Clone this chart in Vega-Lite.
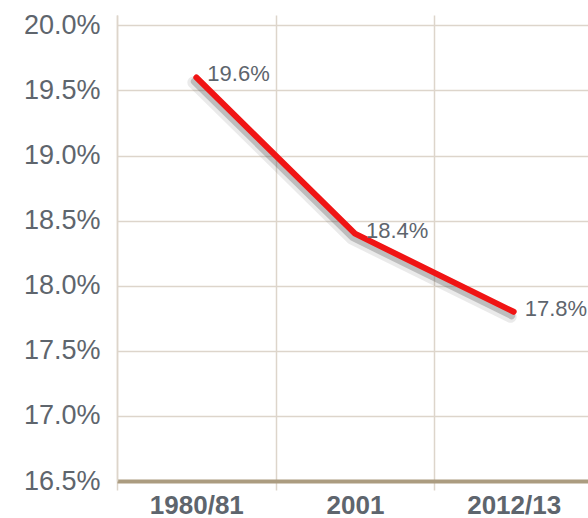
{
  "$schema": "https://vega.github.io/schema/vega-lite/v6.json",
  "width": 476,
  "height": 466,
  "padding": {"left": 117, "top": 15, "right": 0, "bottom": 37},
  "autosize": {"type": "none"},
  "background": "white",
  "config": {"view": {"stroke": null}, "font": "Liberation Sans"},
  "data": {"values": [
    {"year": "1980/81", "share": 19.6, "label": "19.6%"},
    {"year": "2001", "share": 18.4, "label": "18.4%"},
    {"year": "2012/13", "share": 17.8, "label": "17.8%"}
  ]},
  "encoding": {
    "x": {"field": "year", "type": "nominal", "sort": null,
      "scale": {"paddingInner": 0, "paddingOuter": 0},
      "axis": {"title": null, "labelAngle": 0, "labelFont": "Liberation Sans", "labelFontSize": 26, "labelFontWeight": "bold", "labelColor": "#5e656d", "labelPadding": 2,
        "grid": true, "gridColor": "#ddd5cb", "gridWidth": 1.5, "bandPosition": 0,
        "ticks": true, "tickBand": "extent", "tickColor": "#ddd5cb", "tickWidth": 1.5, "tickSize": 9,
        "domain": true, "domainColor": "#ab9c80", "domainWidth": 4}},
    "y": {"field": "share", "type": "quantitative",
      "scale": {"domain": [16.5, 20.08], "nice": false, "zero": false},
      "axis": {"title": null, "values": [16.5, 17, 17.5, 18, 18.5, 19, 19.5, 20], "labelExpr": "format(datum.value, '.1f') + '%'",
        "labelFont": "Liberation Sans", "labelFontSize": 27, "labelColor": "#5e656d", "labelPadding": 17,
        "grid": true, "gridColor": "#ddd5cb", "gridWidth": 1.5, "ticks": false,
        "domain": true, "domainColor": "#ddd5cb", "domainWidth": 1.5}}
  },
  "layer": [
    {"mark": {"type": "line", "color": "#555555", "strokeWidth": 12, "opacity": 0.12, "strokeCap": "round", "strokeJoin": "round", "xOffset": -3, "yOffset": 5}},
    {"mark": {"type": "line", "color": "#555555", "strokeWidth": 7, "opacity": 0.3, "strokeCap": "round", "strokeJoin": "round", "xOffset": -2, "yOffset": 4}},
    {"mark": {"type": "line", "color": "#f01414", "strokeWidth": 6, "strokeCap": "round", "strokeJoin": "round"}},
    {"mark": {"type": "text", "align": "left", "baseline": "middle", "dx": 11, "dy": -3, "fontSize": 22, "color": "#5e656d", "font": "Liberation Sans"},
      "encoding": {"text": {"field": "label"}}}
  ]
}
